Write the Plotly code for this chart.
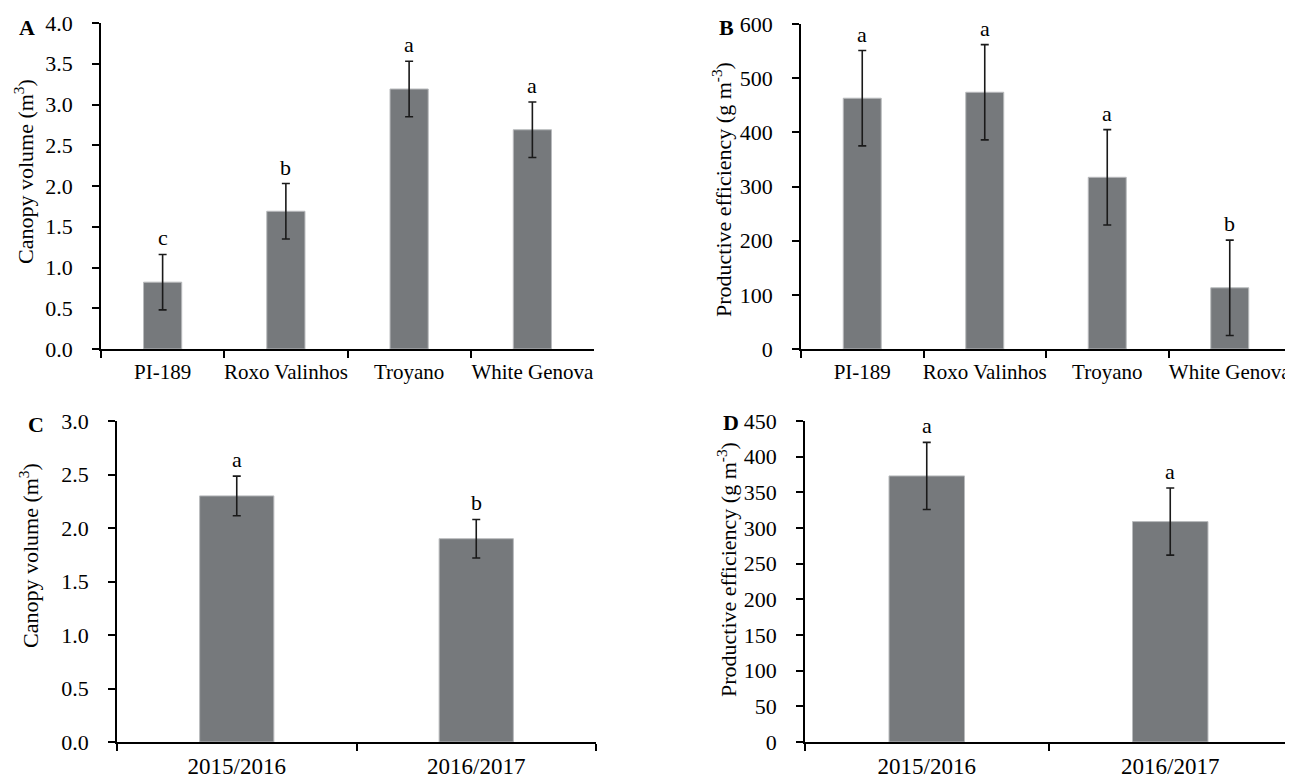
import plotly.graph_objects as go

# ---------------- data ----------------
cultivars = ["PI-189", "Roxo Valinhos", "Troyano", "White Genova"]
canopy_cultivar = [0.82, 1.69, 3.19, 2.69]
canopy_cultivar_err = [0.34, 0.34, 0.34, 0.34]
canopy_cultivar_letters = ["c", "b", "a", "a"]

eff_cultivar = [463, 474, 317, 113]
eff_cultivar_err = [88, 88, 88, 88]
eff_cultivar_letters = ["a", "a", "a", "b"]

seasons = ["2015/2016", "2016/2017"]
canopy_season = [2.30, 1.90]
canopy_season_err = [0.185, 0.18]
canopy_season_letters = ["a", "b"]

eff_season = [373, 309]
eff_season_err = [47, 47]
eff_season_letters = ["a", "a"]

# ---------------- style ----------------
OFF = 8  # page body margin
W, H = 1293 - OFF, 779 - OFF
FONT = "Liberation Serif, Times New Roman, serif"
BAR = "#76797c"
BAR_EDGE = "#b9bbbd"

def px_x(p):
    return (p - OFF) / W

def px_y(p):
    return 1 - (p - OFF) / H

panels = [
    dict(cats=cultivars, vals=canopy_cultivar, err=canopy_cultivar_err, letters=canopy_cultivar_letters,
         xd=[px_x(101), px_x(594)], yd=[px_y(349), px_y(23)], yr=[0, 4], dt=0.5, fmt=".1f", xfs=21),
    dict(cats=cultivars, vals=eff_cultivar, err=eff_cultivar_err, letters=eff_cultivar_letters,
         xd=[px_x(801), px_x(1291)], yd=[px_y(349), px_y(24)], yr=[0, 600], dt=100, fmt="d", xfs=21),
    dict(cats=seasons, vals=canopy_season, err=canopy_season_err, letters=canopy_season_letters,
         xd=[px_x(117), px_x(596)], yd=[px_y(742), px_y(421)], yr=[0, 3], dt=0.5, fmt=".1f", xfs=23),
    dict(cats=seasons, vals=eff_season, err=eff_season_err, letters=eff_season_letters,
         xd=[px_x(805), px_x(1292)], yd=[px_y(742), px_y(421)], yr=[0, 450], dt=50, fmt="d", xfs=23),
]

fig = go.Figure()
annotations = []
layout = {}
for i, p in enumerate(panels, start=1):
    xa = "x" if i == 1 else f"x{i}"
    ya = "y" if i == 1 else f"y{i}"
    fig.add_trace(go.Bar(
        x=p["cats"], y=p["vals"], width=0.31,
        marker=dict(color=BAR, line=dict(color=BAR_EDGE, width=1)),
        error_y=dict(type="data", array=p["err"], visible=True, color="#1a1a1a", thickness=1.6, width=4),
        xaxis=xa, yaxis=ya, showlegend=False, hoverinfo="skip",
    ))
    for c, v, e, t in zip(p["cats"], p["vals"], p["err"], p["letters"]):
        annotations.append(dict(x=c, y=v + e, xref=xa, yref=ya, text=t, showarrow=False,
                                yanchor="bottom", xanchor="center", yshift=2,
                                font=dict(family=FONT, size=22, color="black")))
    xkey = "xaxis" if i == 1 else f"xaxis{i}"
    ykey = "yaxis" if i == 1 else f"yaxis{i}"
    layout[xkey] = dict(domain=p["xd"], anchor=ya, type="category", range=[-0.5, len(p["cats"]) - 0.5],
                        showline=True, linecolor="black", linewidth=1.5, ticks="outside", tickson="boundaries",
                        ticklen=7, tickwidth=1.5, tickcolor="black", showgrid=False, zeroline=False,
                        tickangle=0, automargin=False,
                        tickfont=dict(family=FONT, size=p["xfs"], color="black"), ticklabelstandoff=3,
                        fixedrange=True)
    layout[ykey] = dict(domain=p["yd"], anchor=xa, range=p["yr"], dtick=p["dt"], tick0=0, tickformat=p["fmt"],
                        showline=True, linecolor="black", linewidth=1.5, ticks="outside", ticklen=7,
                        tickwidth=1.5, tickcolor="black", showgrid=False, zeroline=False, automargin=False,
                        tickfont=dict(family=FONT, size=22, color="black"), ticklabelstandoff=15,
                        fixedrange=True)

# axis titles
titles = [
    ("Canopy volume (m<sup>3</sup>)", 24, 172),
    ("Productive efficiency (g m<sup>-3</sup>)", 722, 190),
    ("Canopy volume (m<sup>3</sup>)", 29, 556),
    ("Productive efficiency (g m<sup>-3</sup>)", 727, 570),
]
for t, x, y in titles:
    annotations.append(dict(x=px_x(x), y=px_y(y), xref="paper", yref="paper", text=t, textangle=-90,
                            showarrow=False, xanchor="center", yanchor="middle",
                            font=dict(family=FONT, size=22, color="black")))

# panel letters
for t, x, y in [("A", 27, 27), ("B", 726, 27), ("C", 36, 424), ("D", 731, 422)]:
    annotations.append(dict(x=px_x(x), y=px_y(y), xref="paper", yref="paper", text=f"<b>{t}</b>",
                            showarrow=False, xanchor="center", yanchor="middle",
                            font=dict(family=FONT, size=22, color="black")))

fig.update_layout(
    width=W, height=H, margin=dict(l=0, r=0, t=0, b=0, autoexpand=False),
    paper_bgcolor="white", plot_bgcolor="white", bargap=0.69,
    annotations=annotations, **layout,
)

fig.write_html("out.html")
